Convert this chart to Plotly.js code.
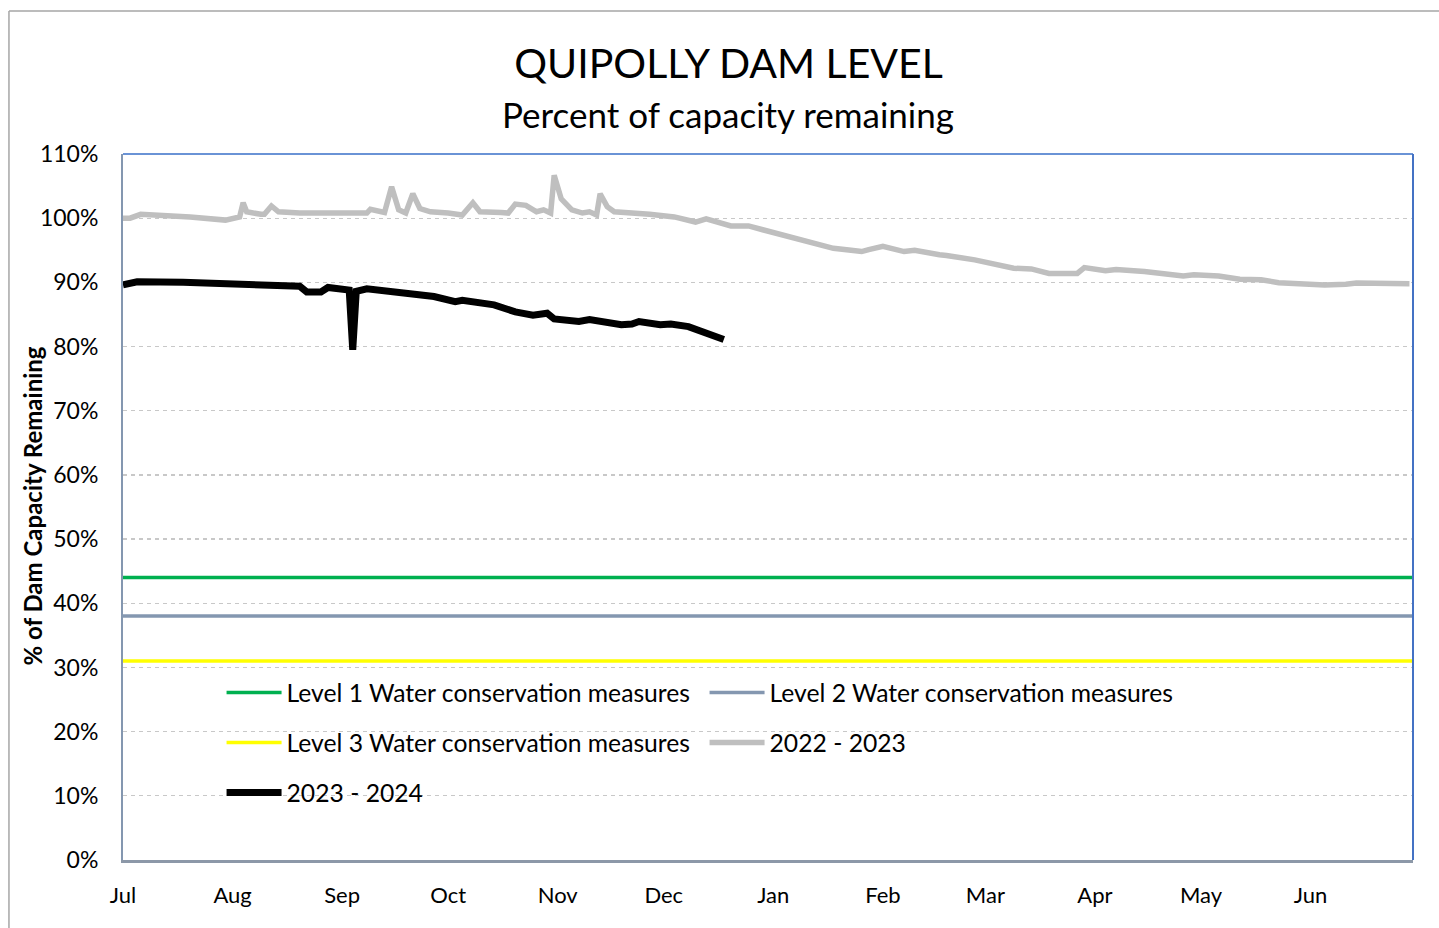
<!DOCTYPE html>
<html>
<head>
<meta charset="utf-8">
<script src="https://cdn.plot.ly/plotly-3.0.1.min.js"></script>
<style>html,body{margin:0;padding:0;background:#fff;}#chart{width:1439px;height:928px;}</style>
</head>
<body>
<div id="chart"></div>
<script>
// ---- Data ----
var seasonStart = '2023-07-01';
var seasonEnd = '2024-06-30';

var levelNames = ['Level 1 Water conservation measures', 'Level 2 Water conservation measures', 'Level 3 Water conservation measures'];
var levelValues = [44, 38, 31];

var dates2223 = ['2023-07-01','2023-07-03','2023-07-06','2023-07-11','2023-07-20','2023-07-30','2023-08-02','2023-08-03','2023-08-04','2023-08-05','2023-08-09','2023-08-10','2023-08-12','2023-08-14','2023-08-20','2023-08-29','2023-09-03','2023-09-08','2023-09-09','2023-09-13','2023-09-15','2023-09-17','2023-09-19','2023-09-21','2023-09-23','2023-09-26','2023-10-01','2023-10-05','2023-10-08','2023-10-10','2023-10-16','2023-10-18','2023-10-20','2023-10-23','2023-10-26','2023-10-28','2023-10-30','2023-10-31','2023-11-02','2023-11-05','2023-11-08','2023-11-10','2023-11-12','2023-11-13','2023-11-15','2023-11-17','2023-11-27','2023-12-04','2023-12-10','2023-12-13','2023-12-20','2023-12-25','2023-12-29','2024-01-09','2024-01-18','2024-01-23','2024-01-26','2024-01-28','2024-02-01','2024-02-07','2024-02-10','2024-02-17','2024-02-19','2024-02-27','2024-03-01','2024-03-09','2024-03-14','2024-03-19','2024-03-27','2024-03-29','2024-04-04','2024-04-07','2024-04-15','2024-04-26','2024-04-29','2024-05-06','2024-05-12','2024-05-18','2024-05-23','2024-06-05','2024-06-11','2024-06-14','2024-06-29'];
var values2223 = [100.0,100.0,100.6,100.5,100.2,99.7,100.1,100.2,102.4,101.0,100.6,100.6,101.9,101.0,100.8,100.8,100.9,100.8,101.4,100.9,104.9,101.3,100.8,103.8,101.5,101.0,100.8,100.5,102.4,101.0,100.9,100.8,102.2,102.0,101.0,101.3,100.8,106.7,103.0,101.3,100.8,101.0,100.5,103.8,101.8,101.0,100.6,100.2,99.4,99.9,98.8,98.8,98.2,96.6,95.3,95.0,94.8,95.1,95.6,94.8,95.0,94.3,94.2,93.5,93.2,92.2,92.1,91.4,91.4,92.3,91.8,92.0,91.7,91.0,91.2,91.0,90.5,90.4,89.95,89.6,89.7,89.9,89.8];

var dates2324 = ['2023-07-01','2023-07-05','2023-07-18','2023-08-06','2023-08-16','2023-08-20','2023-08-22','2023-08-26','2023-08-28','2023-09-02','2023-09-03','2023-09-04','2023-09-05','2023-09-08','2023-09-27','2023-10-03','2023-10-05','2023-10-14','2023-10-20','2023-10-25','2023-10-29','2023-10-31','2023-11-05','2023-11-07','2023-11-10','2023-11-14','2023-11-19','2023-11-22','2023-11-24','2023-11-30','2023-12-03','2023-12-08','2023-12-12','2023-12-18'];
var values2324 = [89.6,90.1,90.0,89.7,89.3,89.4,88.5,88.5,89.2,89.0,88.8,79.5,88.6,89.0,87.8,87.0,87.2,86.5,85.4,84.9,85.2,84.3,84.1,83.9,84.2,83.9,83.4,83.5,83.9,83.4,83.5,83.1,82.3,81.1];

var monthTicks = ['2023-07-01','2023-08-01','2023-09-01','2023-10-01','2023-11-01','2023-12-01','2024-01-01','2024-02-01','2024-03-01','2024-04-01','2024-05-01','2024-06-01'];
var monthLabels = ['Jul','Aug','Sep','Oct','Nov','Dec','Jan','Feb','Mar','Apr','May','Jun'];
var yTicks = [0,10,20,30,40,50,60,70,80,90,100,110];
var yTickLabels = ['0%','10%','20%','30%','40%','50%','60%','70%','80%','90%','100%','110%'];

var titleText = 'QUIPOLLY DAM LEVEL';
var subtitleText = 'Percent of capacity remaining';
var yTitleText = '% of Dam Capacity Remaining';

// ---- Styling ----
var FONT = 'Lato, "Open Sans", sans-serif';
var levelColors = ['#00b050', '#8497b0', '#ffff00'];
var levelLegends = ['legend', 'legend', 'legend2'];

var traces = [];
for (var i = 0; i < levelNames.length; i++) {
  traces.push({
    x: [seasonStart, seasonEnd],
    y: [levelValues[i], levelValues[i]],
    mode: 'lines', type: 'scatter', name: levelNames[i],
    line: {color: levelColors[i], width: 3.5},
    legend: levelLegends[i], hoverinfo: 'skip'
  });
}
traces.push({x: dates2223, y: values2223, mode: 'lines', type: 'scatter', name: '2022 - 2023',
  line: {color: '#bfbfbf', width: 5.5}, legend: 'legend2'});
traces.push({x: dates2324, y: values2324, mode: 'lines', type: 'scatter', name: '2023 - 2024',
  line: {color: '#000000', width: 7}, legend: 'legend3'});

function legendAt(yPaper) {
  return {orientation: 'h', x: 0.0764, xanchor: 'left', y: yPaper, yanchor: 'middle',
    bgcolor: 'rgba(0,0,0,0)', borderwidth: 0, itemwidth: 55, entrywidth: 413, entrywidthmode: 'pixels',
    font: {family: FONT, size: 24.7, color: '#000'}, traceorder: 'normal'};
}

var layout = {
  width: 1439, height: 928,
  margin: {l: 123, r: 26, t: 154, b: 68},
  paper_bgcolor: '#ffffff', plot_bgcolor: '#ffffff',
  font: {family: FONT, color: '#000'},
  title: {
    text: titleText,
    font: {family: FONT, size: 41, color: '#000'},
    x: 0.5063, xanchor: 'center', xref: 'container', y: 0.931, yanchor: 'middle'
  },
  annotations: [
    {text: subtitleText, xref: 'paper', yref: 'paper', x: 0.469, y: 1.0567, xanchor: 'center', yanchor: 'middle',
     showarrow: false, font: {family: FONT, size: 35, color: '#000'}},
    {text: '<b>' + yTitleText + '</b>', xref: 'paper', yref: 'paper', x: -0.0705, y: 0.5007, xanchor: 'center', yanchor: 'middle',
     textangle: -90, showarrow: false, font: {family: FONT, size: 24, color: '#000'}}
  ],
  xaxis: {
    type: 'date', range: [seasonStart, seasonEnd],
    tickmode: 'array', tickvals: monthTicks, ticktext: monthLabels,
    tickfont: {family: FONT, size: 22, color: '#000'},
    showgrid: false, zeroline: false,
    showline: true, linecolor: '#8c98a8', linewidth: 2.5,
    ticks: '', ticklabelstandoff: 14
  },
  yaxis: {
    range: [0, 110], tickmode: 'array', tickvals: yTicks, ticktext: yTickLabels,
    tickfont: {family: FONT, size: 23, color: '#000'},
    showgrid: true, gridcolor: '#c8c8c8', griddash: '4px,4px', gridwidth: 1.2,
    zeroline: false, showline: true, linecolor: '#8497b0', linewidth: 2,
    ticks: '', ticklabelstandoff: 18
  },
  legend: legendAt(0.2365),
  legend2: legendAt(0.1657),
  legend3: legendAt(0.0949),
  shapes: [
    {type: 'line', xref: 'paper', yref: 'paper', x0: 0, x1: 1, y0: 1, y1: 1, line: {color: '#6a93d6', width: 2}},
    {type: 'line', xref: 'paper', yref: 'paper', x0: 1, x1: 1, y0: 0, y1: 1, line: {color: '#4472c4', width: 2}},
    {type: 'line', xref: 'paper', yref: 'paper', x0: -0.0884, x1: 1.03, y0: 1.2025, y1: 1.2025, line: {color: '#a6a6a6', width: 1.5}},
    {type: 'line', xref: 'paper', yref: 'paper', x0: -0.0884, x1: -0.0884, y0: -0.11, y1: 1.2025, line: {color: '#a6a6a6', width: 1.5}}
  ],
  showlegend: true
};

Plotly.newPlot('chart', traces, layout, {displayModeBar: false, staticPlot: true});
</script>
</body>
</html>
